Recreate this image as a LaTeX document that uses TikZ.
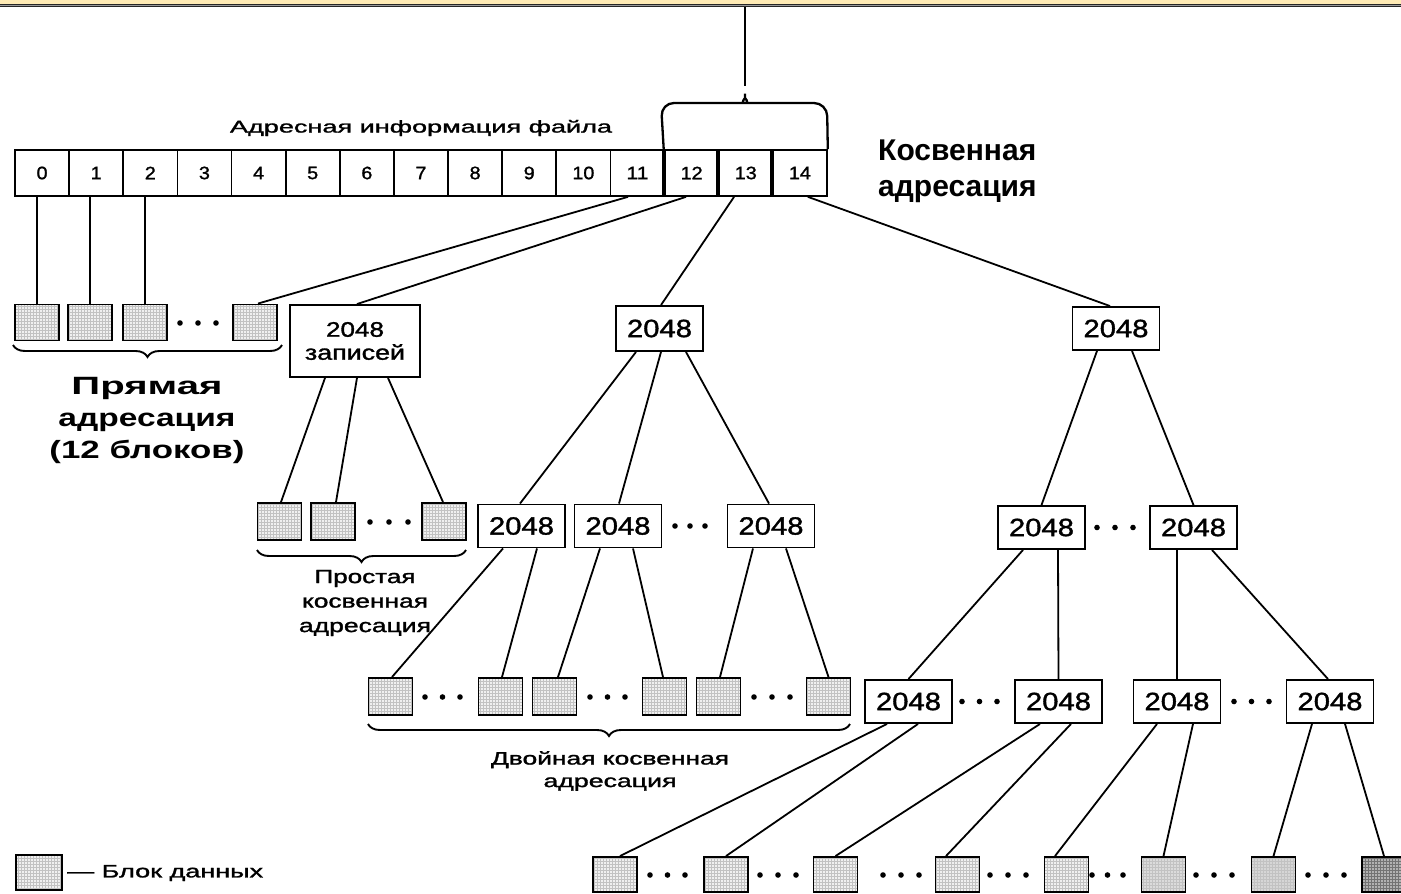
\documentclass[tikz,border=0pt]{standalone}
\usepackage{fontspec}
\setmainfont{Liberation Sans}
\newfontface\scanfont{Liberation Sans}[FakeBold=1.3]
\usetikzlibrary{decorations.pathreplacing,patterns,calc}
\definecolor{bandY}{HTML}{FFEBB5}
\newcommand\sw[2]{\resizebox{#1pt}{\height}{#2}}
\newcommand\ellip[4]{\foreach \k in {0,1,2} \fill ({#1+\k*#2},#3) circle (#4pt);}
\newcommand\cn[4]{\draw[conn] ([xshift=#2pt]#1.south) -- ([xshift=#4pt]#3.north);}
\begin{document}
\begin{tikzpicture}[x=1pt,y=-1pt,
  cellbox/.style={draw, line width=1.7pt, minimum width=54.13pt, minimum height=46pt, inner sep=0pt, font=\scanfont\fontsize{18}{20}\selectfont},
  numbox/.style={draw, line width=1.9pt, fill=white, minimum width=87pt, minimum height=43pt, inner sep=0pt, font=\scanfont\fontsize{25}{28}\selectfont},
  dblk/.style={draw, line width=1.9pt, minimum width=44pt, minimum height=36pt, inner sep=0pt, preaction={fill=black!6}, pattern=grid, pattern color=black!24},
  dblkdark/.style={dblk, preaction={fill=black!30}, pattern color=black!55},
  conn/.style={line width=1.8pt},
  brc/.style={line width=1.9pt, decorate, decoration={brace, mirror, amplitude=12pt}},
  scan/.style={inner sep=0pt, align=center}
]
\useasboundingbox (0,0) rectangle (1401,894);
% top band
\fill[bandY] (0,0) rectangle (1401,4.2);
\fill[black!85] (0,4.2) rectangle (1401,7.2);
\draw[white!60!black, line width=0.5pt] (0,5.7) -- (1401,5.7);

% array of addresses
\foreach \i in {0,...,14} {
  \node[cellbox] (c\i) at ({15+54.13*(\i+0.5)},173) {\sw{\ifnum\i>9 22\else 11\fi}{\i}};
}
\foreach \i in {12,13,14} \draw[line width=3.6pt] (c\i.north west) -- (c\i.south west);
\node[scan, font=\scanfont\fontsize{17}{20}\selectfont] (lblAddr) at (421,128) {\sw{382}{Адресная информация файла}};

% brace over 12-14
\coordinate (btip) at (745,86);
\coordinate (topY) at (745,7);
\draw[line width=2pt] (topY) -- (btip);
\draw[line width=2.3pt, rounded corners=13pt] (c12.north west) -- (661,103) -- (731,103) .. controls (741,103) and (745,97) .. (btip) .. controls (745,97) and (749,103) .. (759,103) -- (827,103) -- (c14.north east);
\node[anchor=west, align=left, inner sep=0pt, font=\bfseries\fontsize{30}{36}\selectfont] (lblInd) at (878,171) {Косвенная\\адресация};

% direct blocks
\node[dblk] (d0) at (37,322.5) {};
\node[dblk] (d1) at (90,322.5) {};
\node[dblk] (d2) at (145,322.5) {};
\node[dblk] (d3) at (255,322.5) {};
\ellip{180}{18}{323}{2.8}
\draw[conn] (d0.north) -- (d0.north |- c0.south);
\draw[conn] (d1.north) -- (d1.north |- c1.south);
\draw[conn] (d2.north) -- (d2.north |- c2.south);
\coordinate (bd1) at (13,345);
\coordinate (bd2) at (282,345);
\draw[brc] (bd1) -- (bd2);
\node[scan, font=\bfseries\fontsize{25}{32}\selectfont] (lblDirect) at (147,420) {\sw{151}{Прямая}\\\sw{177}{адресация}\\\sw{195}{(12 блоков)}};

% single indirect
\node[numbox, minimum width=130pt, minimum height=72pt, font=\scanfont\fontsize{21}{23}\selectfont, align=center] (zz) at (355,341) {\sw{58}{2048}\\\sw{100}{записей}};
\node[dblk, minimum height=37pt] (s0) at (279.5,521.5) {};
\node[dblk, minimum height=37pt] (s1) at (333,521.5) {};
\node[dblk, minimum height=37pt] (s2) at (444,521.5) {};
\ellip{370}{19}{522}{2.8}
\coordinate (bs1) at (257,550);
\coordinate (bs2) at (466,550);
\draw[brc] (bs1) -- (bs2);
\node[scan, font=\scanfont\fontsize{19}{24.5}\selectfont] (lblSimple) at (365,603) {\sw{101}{Простая}\\\sw{126}{косвенная}\\\sw{132}{адресация}};

% double indirect
\node[numbox, minimum height=45pt] (m1) at (659.5,328.5) {\sw{65}{2048}};
\node[numbox] (A) at (521.5,526) {\sw{65}{2048}};
\node[numbox] (B) at (618,526) {\sw{65}{2048}};
\node[numbox] (C) at (771,526) {\sw{65}{2048}};
\ellip{675}{15}{526}{2.8}
\node[dblk, minimum height=37pt] (b1) at (390.5,696.5) {};
\node[dblk, minimum height=37pt] (b2) at (500.5,696.5) {};
\node[dblk, minimum height=37pt] (b3) at (554.5,696.5) {};
\node[dblk, minimum height=37pt] (b4) at (664.5,696.5) {};
\node[dblk, minimum height=37pt] (b5) at (718.5,696.5) {};
\node[dblk, minimum height=37pt] (b6) at (828.5,696.5) {};
\ellip{425}{17.5}{697}{2.8}
\ellip{590}{17.5}{697}{2.8}
\ellip{754}{18}{697}{2.8}
\coordinate (bb1) at (368,724);
\coordinate (bb2) at (850,724);
\draw[brc] (bb1) -- (bb2);
\node[scan, font=\scanfont\fontsize{18}{22.5}\selectfont] (lblDouble) at (610,771) {\sw{238}{Двойная косвенная}\\\sw{133}{адресация}};

% triple indirect
\node[numbox] (r1) at (1116,328.5) {\sw{65}{2048}};
\node[numbox] (L) at (1041.5,527.5) {\sw{65}{2048}};
\node[numbox] (R) at (1193.5,527.5) {\sw{65}{2048}};
\ellip{1097}{18}{527.5}{2.8}
\node[numbox] (D) at (908.5,701.5) {\sw{65}{2048}};
\node[numbox] (E) at (1058.5,701.5) {\sw{65}{2048}};
\node[numbox] (F) at (1177,701.5) {\sw{65}{2048}};
\node[numbox] (G) at (1330,701.5) {\sw{65}{2048}};
\ellip{962}{17.5}{701.5}{2.8}
\ellip{1234}{17.5}{701.5}{2.8}
\node[dblk, minimum height=35pt] (e0) at (615,874.5) {};
\node[dblk, minimum height=35pt] (e1) at (726,874.5) {};
\node[dblk, minimum height=35pt] (e2) at (835.5,874.5) {};
\node[dblk, minimum height=35pt] (e3) at (957.5,874.5) {};
\node[dblk, minimum height=35pt] (e4) at (1066.5,874.5) {};
\node[dblk, minimum height=35pt, preaction={fill=black!14}] (e5) at (1163.5,874.5) {};
\node[dblk, minimum height=35pt, preaction={fill=black!16}] (e6) at (1273.5,874.5) {};
\node[dblkdark, minimum height=35pt] (e7) at (1384,874.5) {};
\ellip{650}{17.5}{875}{2.8}
\ellip{760}{18}{875}{2.8}
\ellip{883}{18}{875}{2.8}
\ellip{990}{18}{875}{2.8}
\ellip{1092}{15.5}{875}{2.8}
\ellip{1196}{18}{875}{2.8}
\ellip{1308}{18}{875}{2.8}

% legend
\node[dblk, minimum width=46pt, minimum height=35pt] (lg) at (39,872.5) {};
\node[anchor=west, inner sep=0pt, font=\scanfont\fontsize{18}{20}\selectfont] (lblLeg) at (67,873) {\sw{196}{— Блок данных}};

% connectors from the address array
\draw[conn] ([xshift=-9.5pt]c11.south) -- ([xshift=3pt]d3.north);
\draw[conn] ([xshift=-5.6pt]c12.south) -- ([xshift=2pt]zz.north);
\draw[conn] ([xshift=-11.7pt]c13.south) -- ([xshift=1.5pt]m1.north);
\draw[conn] ([xshift=8pt]c14.south) -- ([xshift=-6pt]r1.north);
% single
\cn{zz}{-30}{s0}{1.5}
\cn{zz}{2}{s1}{3}
\cn{zz}{33}{s2}{-1}
% double
\cn{m1}{-23.5}{A}{-1.5}
\cn{m1}{1.5}{B}{1}
\cn{m1}{26.5}{C}{-2}
\cn{A}{-18.5}{b1}{1.5}
\cn{A}{15.5}{b2}{1.5}
\cn{B}{-18}{b3}{3.5}
\cn{B}{15}{b4}{-1.5}
\cn{C}{-18}{b5}{1.5}
\cn{C}{15}{b6}{0}
% triple
\cn{r1}{-19}{L}{0}
\cn{r1}{16}{R}{0}
\cn{L}{-18.5}{D}{0}
\cn{L}{16.5}{E}{0}
\cn{R}{-16.5}{F}{0}
\cn{R}{18.5}{G}{-2}
\cn{D}{-21.5}{e0}{5}
\cn{D}{9.5}{e1}{0}
\cn{E}{-18.5}{e2}{0}
\cn{E}{12.5}{e3}{-11.5}
\cn{F}{-20}{e4}{-11.5}
\cn{F}{16}{e5}{0}
\cn{G}{-18}{e6}{0}
\cn{G}{15}{e7}{0}
\end{tikzpicture}
\end{document}
